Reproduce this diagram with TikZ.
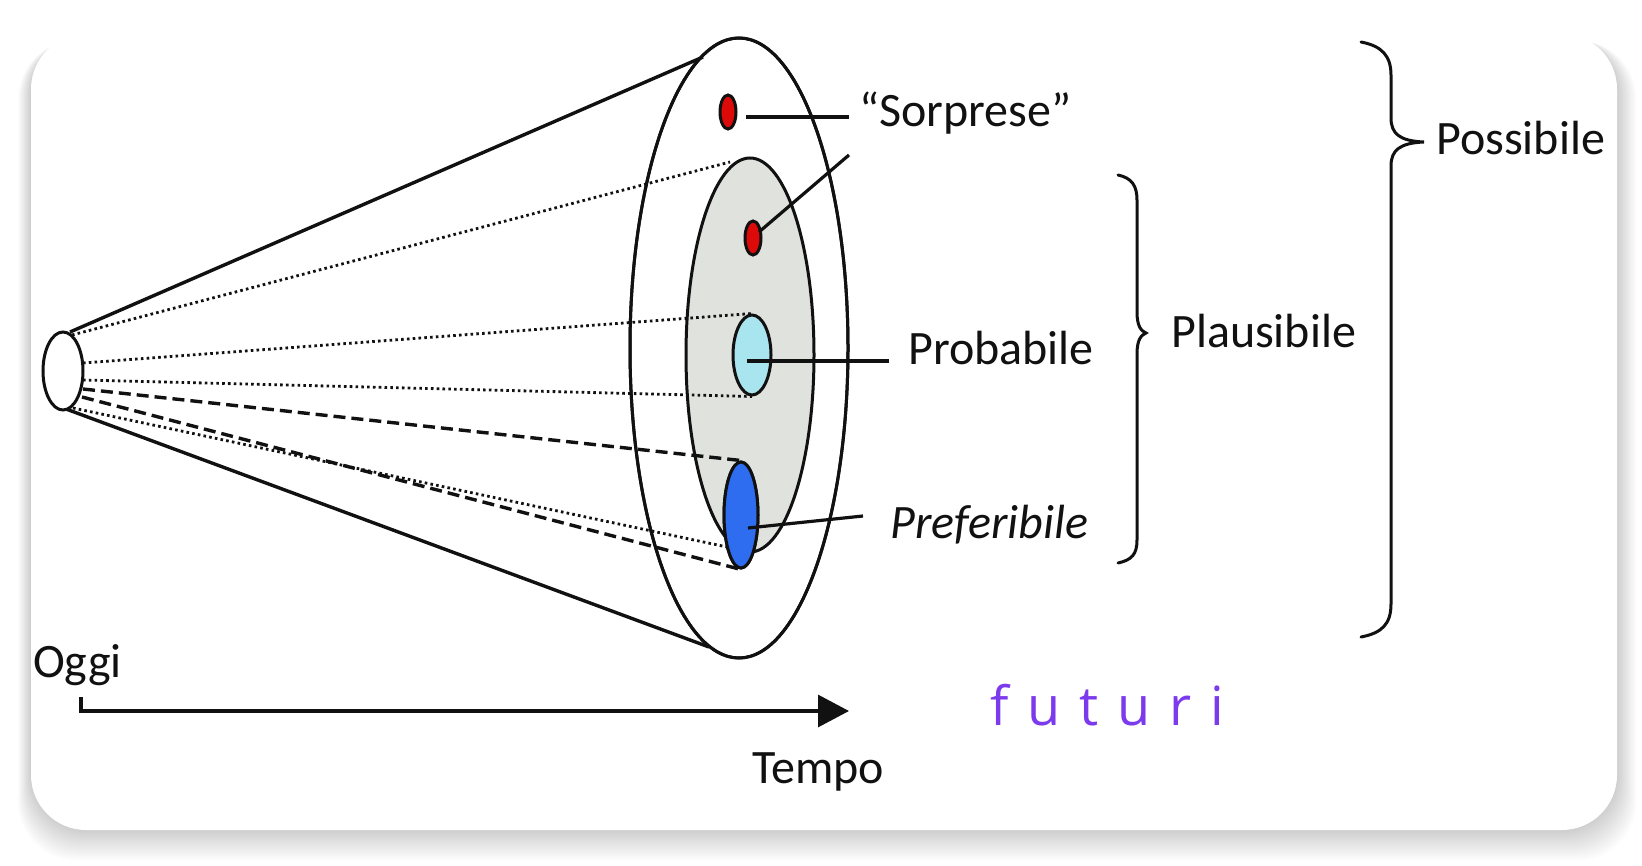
\documentclass[tikz,border=0pt]{standalone}
\usepackage{fontspec}
\setmainfont{Carlito}
\newfontfamily\futfont{Open Sans}
\usetikzlibrary{shapes.geometric,arrows.meta}
\definecolor{grayfill}{HTML}{DFE2DD}
\definecolor{reddot}{HTML}{DD0A0A}
\definecolor{cyanfill}{HTML}{A9E5EF}
\definecolor{bluefill}{HTML}{2F6DF0}
\definecolor{futcol}{HTML}{7C3AED}
\definecolor{inkcol}{HTML}{111111}
\begin{document}
\begin{tikzpicture}[x=1pt,y=-1pt,
  ell/.style={ellipse,draw=inkcol,line width=3pt,inner sep=0pt},
  conel/.style={draw=inkcol,line width=3.4pt},
  dotl/.style={draw=inkcol,line width=2.8pt,dash pattern=on 2.6pt off 3.2pt},
  dashl/.style={draw=inkcol,line width=3.4pt,dash pattern=on 12pt off 6pt},
  conn/.style={draw=inkcol,line width=3.2pt},
  lbl/.style={inner sep=0pt,anchor=base west,text=inkcol,font=\fontsize{48}{52}\selectfont},
  brace/.style={draw=inkcol,line width=3pt,line cap=round}
]
\useasboundingbox (0,0) rectangle (1642,866);
\fill[white] (0,0) rectangle (1642,866);
% card shadow
\foreach \i in {1,...,16}{
  \fill[black,opacity=0.011,rounded corners=58pt] (31-\i*0.8,36+\i*0.3) rectangle (1617+\i*1.2,830+\i*1.9);
}
\fill[white,rounded corners=55pt] (31,34) rectangle (1617,830);

% nodes (ellipses)
\node[ell,minimum width=218pt,minimum height=620pt] (outer) at (739,348) {};
\node[ell,fill=grayfill,minimum width=128pt,minimum height=394pt] (inner) at (750,355) {};

% cone outline
\coordinate (ct) at (70,332);
\coordinate (cb) at (66,409);
\coordinate (ot) at (703,57);
\coordinate (ob) at (709,647);
\draw[conel] (ct) -- (ot);
\draw[conel] (cb) -- (ob);
% redraw outer ellipse over cone ends
\node[ell,minimum width=218pt,minimum height=620pt] at (739,348) {};

% coloured ellipses
\node[ell,fill=reddot,minimum width=16pt,minimum height=34pt] (red1) at (728,112) {};
\node[ell,fill=reddot,minimum width=16pt,minimum height=34pt] (red2) at (753,238) {};
\node[ell,fill=cyanfill,minimum width=38pt,minimum height=80pt] (cyan) at (752,355) {};

% dotted and dashed lines
\coordinate (d1a) at (72,335);
\coordinate (d1b) at (730,162);
\coordinate (d2a) at (83,363);
\coordinate (d3a) at (83,380);
\coordinate (d4a) at (83,389);
\coordinate (d5a) at (82,397);
\coordinate (d6a) at (73,408);
\coordinate (d6b) at (727,547);
\draw[dotl] (d1a) -- (d1b);
\draw[dotl] (d2a) -- (cyan.north);
\draw[dotl] (d3a) -- (cyan.south);
\node[ell,fill=bluefill,minimum width=34pt,minimum height=106pt] (blue) at (741,515) {};
\draw[dashl] (d4a) -- (blue.north);
\draw[dashl] (d5a) -- (blue.south);
\draw[dotl] (d6a) -- (d6b);
\node[ell,fill=bluefill,minimum width=34pt,minimum height=106pt] at (741,515) {};

% apex ellipse
\node[ell,fill=white,minimum width=40pt,minimum height=78pt] (apex) at (63,371) {};

% labels
\node[lbl] (sorp) at (859,127) {“Sorprese”};
\node[lbl] (prob) at (908,365) {Probabile};
\node[lbl,font=\fontsize{48}{52}\selectfont\itshape] (pref) at (890,538) {Preferibile};
\node[lbl] (plaus) at (1171,348) {Plausibile};
\node[lbl] (poss) at (1436,155) {Possibile};
\node[lbl] (oggi) at (33,677) {Oggi};
\node[lbl] (tempo) at (752,783) {Tempo};
\node[inner sep=0pt,anchor=base west,text=futcol,font=\futfont\fontsize{54}{58}\selectfont] (fut) at (990,725) {f\kern19pt u\kern19pt t\kern19pt u\kern19pt r\kern19pt i};

% connectors
\coordinate (s1a) at (746,117);
\coordinate (s1b) at (849,117);
\coordinate (s2a) at (759,232);
\coordinate (s2b) at (849,155);
\coordinate (pa) at (747,361);
\coordinate (pb) at (889,361);
\coordinate (fa) at (748,528);
\coordinate (fb) at (863,516);
\draw[conn] (s1a) -- (s1b);
\draw[conn] (s2a) -- (s2b);
\draw[conn] (pa) -- (pb);
\draw[conn] (fa) -- (fb);

% braces
\draw[brace] (1118,175) .. controls (1132,178) and (1137,186) .. (1137,200) -- (1137,312)
  .. controls (1137,326) and (1141,331) .. (1146,333)
  .. controls (1141,335) and (1137,340) .. (1137,354) -- (1137,540)
  .. controls (1137,554) and (1132,560) .. (1118,563);
\draw[brace] (1361,42) .. controls (1382,46) and (1391,56) .. (1391,75) -- (1391,118)
  .. controls (1391,134) and (1400,141) .. (1424,142)
  .. controls (1400,143) and (1391,150) .. (1391,166) -- (1391,604)
  .. controls (1391,624) and (1382,633) .. (1361,637);

% time axis
\coordinate (tick) at (81,697);
\coordinate (t1) at (849,711);
\draw[line width=3.2pt,draw=inkcol,-{Triangle[length=31pt,width=32pt]}] (tick) |- (t1);
\end{tikzpicture}
\end{document}
